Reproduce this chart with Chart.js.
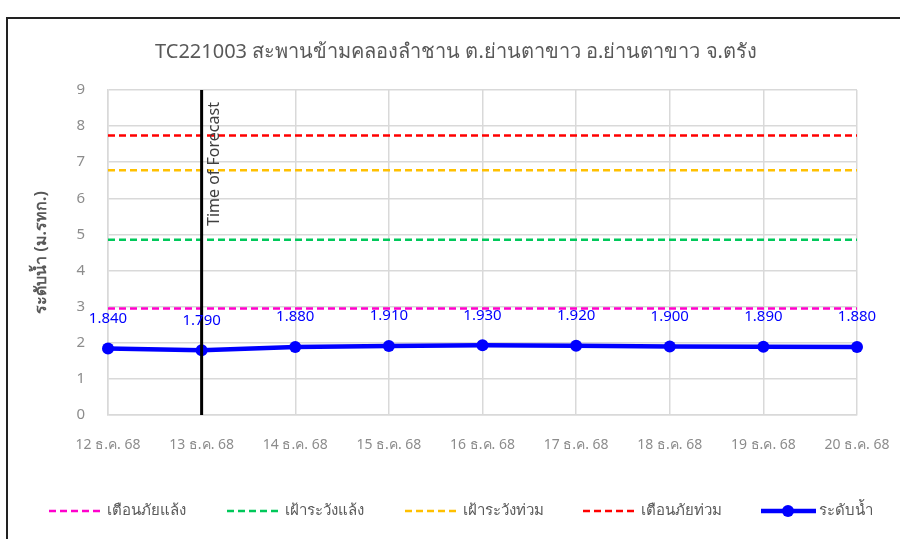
<!DOCTYPE html>
<html>
<head>
<meta charset="utf-8">
<script src="https://cdn.jsdelivr.net/npm/chart.js@4.4.1/dist/chart.umd.min.js"></script>
<style>
  html, body { margin: 0; padding: 0; background: #fff; }
  #wrap { width: 900px; height: 539px; }
</style>
</head>
<body>
<div id="wrap"><canvas id="levelChart" width="900" height="539"></canvas></div>
<script>
// ข้อมูลจากกราฟ
const chartTitle = 'TC221003 สะพานข้ามคลองลำชาน ต.ย่านตาขาว อ.ย่านตาขาว จ.ตรัง';
const dateLabels = ['12 ธ.ค. 68', '13 ธ.ค. 68', '14 ธ.ค. 68', '15 ธ.ค. 68', '16 ธ.ค. 68',
    '17 ธ.ค. 68', '18 ธ.ค. 68', '19 ธ.ค. 68', '20 ธ.ค. 68'];
const waterLevel = [1.84, 1.79, 1.88, 1.91, 1.93, 1.92, 1.90, 1.89, 1.88];

// เกณฑ์ระดับน้ำ (ม.รทก.)
const thresholdNames = ['เตือนภัยแล้ง', 'เฝ้าระวังแล้ง', 'เฝ้าระวังท่วม', 'เตือนภัยท่วม'];
const thresholdValues = [2.95, 4.85, 6.78, 7.74];
const thresholdColors = ['#ff00cc', '#00c85a', '#ffc000', '#ff0000'];

const forecastIndex = 1; // Time of Forecast
const yTicks = [0, 1, 2, 3, 4, 5, 6, 7, 8, 9];

const fontFamily = "Tahoma, 'Noto Sans', 'DejaVu Sans', sans-serif";

const thresholdSets = thresholdNames.map((name, i) => ({
    label: name,
    data: dateLabels.map(() => thresholdValues[i]),
    borderColor: thresholdColors[i],
    backgroundColor: thresholdColors[i],
    borderWidth: 2.5,
    borderDash: [7, 4],
    pointRadius: 0,
    fill: false
}));

const levelSet = {
    label: 'ระดับน้ำ',
    data: waterLevel,
    borderColor: '#0000ff',
    backgroundColor: '#0000ff',
    borderWidth: 4.5,
    pointRadius: 6,
    pointBackgroundColor: '#0000ff',
    pointBorderWidth: 0,
    fill: false
};

// กรอบ, ชื่อกราฟ, เส้นเวลาพยากรณ์, ป้ายค่า และคำอธิบายกราฟ
const extrasPlugin = {
    id: 'extras',
    beforeDraw(chart) {
        const ctx = chart.ctx;
        ctx.save();
        ctx.strokeStyle = '#222';
        ctx.lineWidth = 2;
        ctx.beginPath();
        ctx.moveTo(7, 539);
        ctx.lineTo(7, 18);
        ctx.lineTo(900, 18);
        ctx.stroke();

        ctx.fillStyle = '#595959';
        ctx.font = '20px ' + fontFamily;
        ctx.textAlign = 'center';
        ctx.textBaseline = 'middle';
        ctx.fillText(chartTitle, 456, 52);
        ctx.restore();
    },
    afterDatasetsDraw(chart) {
        const ctx = chart.ctx;
        const area = chart.chartArea;
        const x = chart.scales.x.getPixelForValue(forecastIndex);

        ctx.save();
        ctx.strokeStyle = '#000';
        ctx.lineWidth = 3;
        ctx.beginPath();
        ctx.moveTo(x, area.top);
        ctx.lineTo(x, area.bottom);
        ctx.stroke();

        ctx.translate(x + 13, 226);
        ctx.rotate(-Math.PI / 2);
        ctx.fillStyle = '#404040';
        ctx.font = '16px ' + fontFamily;
        ctx.textAlign = 'left';
        ctx.textBaseline = 'middle';
        ctx.fillText('Time of Forecast', 0, 0);
        ctx.restore();

        // ป้ายค่าระดับน้ำ
        const meta = chart.getDatasetMeta(chart.data.datasets.length - 1);
        ctx.save();
        ctx.fillStyle = '#0000ff';
        ctx.font = '15px ' + fontFamily;
        ctx.textAlign = 'center';
        ctx.textBaseline = 'middle';
        meta.data.forEach((pt, i) => {
            ctx.fillText(waterLevel[i].toFixed(3), pt.x, pt.y - 30);
        });
        ctx.restore();
    },
    afterDraw(chart) {
        const ctx = chart.ctx;
        const y = 511;
        ctx.save();
        ctx.font = '15px ' + fontFamily;
        ctx.textBaseline = 'middle';
        ctx.fillStyle = '#595959';
        chart.data.datasets.forEach((ds, i) => {
            const x0 = 49 + i * 178;
            ctx.strokeStyle = ds.borderColor;
            ctx.lineWidth = ds.borderDash ? 2.5 : 4.5;
            ctx.setLineDash(ds.borderDash || []);
            ctx.beginPath();
            ctx.moveTo(x0, y);
            ctx.lineTo(x0 + 55, y);
            ctx.stroke();
            ctx.setLineDash([]);
            if (!ds.borderDash) {
                ctx.fillStyle = ds.borderColor;
                ctx.beginPath();
                ctx.arc(x0 + 27, y, 6, 0, Math.PI * 2);
                ctx.fill();
                ctx.fillStyle = '#595959';
            }
            ctx.textAlign = 'left';
            ctx.fillText(ds.label, x0 + 58, y);
        });
        ctx.restore();
    }
};

const ctx = document.getElementById('levelChart').getContext('2d');
new Chart(ctx, {
    type: 'line',
    data: {
        labels: dateLabels,
        datasets: [...thresholdSets, levelSet]
    },
    options: {
        responsive: false,
        animation: false,
        layout: { padding: { left: 0, right: 43, top: 90, bottom: 0 } },
        plugins: {
            legend: { display: false },
            tooltip: { enabled: false },
            title: { display: false }
        },
        scales: {
            x: {
                offset: false,
                grid: { color: '#d9d9d9', lineWidth: 1.5, drawTicks: false },
                border: { color: '#d9d9d9', width: 1.5 },
                ticks: {
                    color: '#8c8c8c',
                    font: { family: fontFamily, size: 14 },
                    padding: 22,
                    maxRotation: 0,
                    autoSkip: false
                },
                afterFit(scale) {
                    scale.height = 124;
                    scale.paddingLeft = 0;
                    scale.paddingRight = 0;
                }
            },
            y: {
                min: 0,
                max: 9,
                afterBuildTicks(scale) { scale.ticks = yTicks.map(v => ({ value: v })); },
                grid: { color: '#d9d9d9', lineWidth: 1.5, drawTicks: false },
                border: { color: '#d9d9d9', width: 1.5 },
                ticks: {
                    color: '#8c8c8c',
                    font: { family: fontFamily, size: 15 },
                    padding: 23
                },
                title: {
                    display: true,
                    text: 'ระดับน้ำ (ม.รทก.)',
                    color: '#595959',
                    font: { family: fontFamily, size: 16, weight: 'bold' },
                    padding: { top: 32 }
                },
                afterFit(scale) { scale.width = 108; }
            }
        }
    },
    plugins: [extrasPlugin]
});
</script>
</body>
</html>
